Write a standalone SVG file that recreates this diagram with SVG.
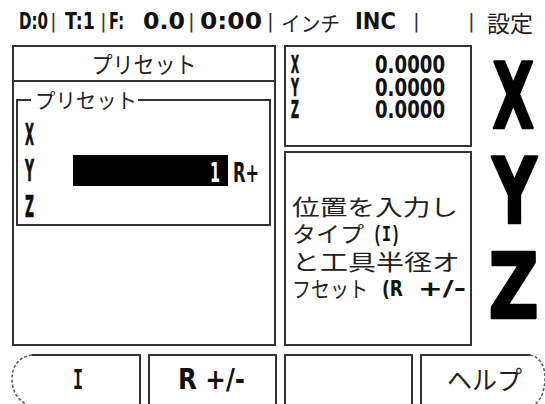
<svg xmlns="http://www.w3.org/2000/svg" width="545" height="404" viewBox="0 0 545 404">
<style>
.ln{fill:none;stroke:#333;stroke-width:2}
.dash{fill:none;stroke:#555;stroke-width:1.5;stroke-dasharray:3 2}
.b{font-family:"DejaVu Sans Condensed","DejaVu Sans",sans-serif;font-weight:bold;fill:#111}
.m{font-family:"Liberation Mono",monospace;font-weight:bold;fill:#111}
.p{font-family:"DejaVu Sans",sans-serif;font-weight:normal;fill:#333;font-size:20px}
.j{font-family:"Noto Sans CJK JP",sans-serif;fill:#222}
.big{font-family:"DejaVu Sans",sans-serif;font-weight:bold;font-size:90px;fill:#000;stroke:#000;stroke-width:2.5;stroke-linejoin:round}
.th{stroke:#111;stroke-width:0.7}
</style>
<rect x="0" y="0" width="545" height="404" fill="#fff"/>
<g id="header">
<text class="b" x="19" y="29" font-size="23" textLength="29" lengthAdjust="spacingAndGlyphs">D:0</text>
<text class="p" x="50" y="28">|</text>
<text class="b" x="65" y="29" font-size="23" textLength="30" lengthAdjust="spacingAndGlyphs">T:1</text>
<text class="p" x="100" y="28">|</text>
<text class="b" x="109" y="29" font-size="23" textLength="15" lengthAdjust="spacingAndGlyphs">F:</text>
<text class="b" x="143" y="29" font-size="23" textLength="42" lengthAdjust="spacingAndGlyphs">0.0</text>
<text class="p" x="188" y="28">|</text>
<text class="b" x="200" y="29" font-size="23" textLength="62" lengthAdjust="spacingAndGlyphs">0:00</text>
<text class="p" x="267" y="28">|</text>
<text class="j" x="281" y="31" font-size="21" textLength="59" lengthAdjust="spacingAndGlyphs">インチ</text>
<text class="b" x="355" y="29" font-size="23" textLength="41" lengthAdjust="spacingAndGlyphs">INC</text>
<text class="p" x="413" y="28">|</text>
<text class="p" x="468" y="28">|</text>
<text class="j" x="487" y="32" font-size="23" textLength="46" lengthAdjust="spacingAndGlyphs">設定</text>
</g>
<g id="preset-panel">
<rect class="ln" x="13" y="46" width="262" height="299"/>
<line class="ln" x1="13" y1="81" x2="275" y2="81"/>
<text class="j" x="144" y="73" font-size="23" text-anchor="middle" textLength="105" lengthAdjust="spacingAndGlyphs">プリセット</text>
</g>
<g id="preset-group">
<path class="ln" d="M31 100 H17 V225 H270 V100 H138"/>
<text class="j" x="35" y="108" font-size="21" textLength="102" lengthAdjust="spacingAndGlyphs">プリセット</text>
<text class="b th" x="25" y="145" font-size="30" textLength="9" lengthAdjust="spacingAndGlyphs">X</text>
<text class="b th" x="25" y="181" font-size="30" textLength="9" lengthAdjust="spacingAndGlyphs">Y</text>
<text class="b th" x="25" y="217" font-size="30" textLength="9" lengthAdjust="spacingAndGlyphs">Z</text>
</g>
<g id="input-field">
<rect x="73" y="155" width="155" height="31" fill="#000"/>
<text class="b" x="210" y="182" font-size="27" style="fill:#fff" textLength="10" lengthAdjust="spacingAndGlyphs">1</text>
<text class="b" x="233" y="182" font-size="27" textLength="26" lengthAdjust="spacingAndGlyphs">R+</text>
</g>
<g id="position-box">
<rect class="ln" x="285" y="46" width="186" height="100"/>
<text class="b th" x="291" y="73" font-size="25" textLength="8" lengthAdjust="spacingAndGlyphs">X</text>
<text class="b th" x="291" y="95.5" font-size="25" textLength="8" lengthAdjust="spacingAndGlyphs">Y</text>
<text class="b th" x="291" y="118" font-size="25" textLength="8" lengthAdjust="spacingAndGlyphs">Z</text>
<text class="b" x="375" y="73" font-size="25" textLength="70" lengthAdjust="spacingAndGlyphs">0.0000</text>
<text class="b" x="375" y="95.5" font-size="25" textLength="70" lengthAdjust="spacingAndGlyphs">0.0000</text>
<text class="b" x="375" y="118" font-size="25" textLength="70" lengthAdjust="spacingAndGlyphs">0.0000</text>
</g>
<g id="message-box">
<rect class="ln" x="285" y="152" width="186" height="193"/>
<text class="j" x="292" y="215" font-size="22" textLength="166" lengthAdjust="spacingAndGlyphs">位置を入力し</text>
<text class="j" x="292" y="242" font-size="22" textLength="72" lengthAdjust="spacingAndGlyphs">タイプ</text>
<text class="m" x="373" y="241" font-size="22" textLength="27" lengthAdjust="spacingAndGlyphs">(I)</text>
<text class="j" x="292" y="270" font-size="22" textLength="168" lengthAdjust="spacingAndGlyphs">と工具半径オ</text>
<text class="j" x="292" y="297" font-size="22" textLength="76" lengthAdjust="spacingAndGlyphs">フセット</text>
<text class="b" x="382" y="296" font-size="22" textLength="21" lengthAdjust="spacingAndGlyphs">(R</text>
<text class="b" x="418" y="296" font-size="22" textLength="48" lengthAdjust="spacingAndGlyphs">+/-</text>
</g>
<g id="axis-letters">
<text class="big" transform="translate(492.5,128) scale(0.6,1)">X</text>
<text class="big" transform="translate(492,223) scale(0.69,1)">Y</text>
<text class="big" transform="translate(488.5,318) scale(0.77,1)">Z</text>
</g>
<g id="softkey-1">
<path class="ln" d="M32 355 H140 V404"/>
<path class="dash" d="M32 355 C18 357 12 367 12 379 C12 391 18 400 26 404"/>
<text class="m" x="73" y="389" font-size="29" textLength="10" lengthAdjust="spacingAndGlyphs">I</text>
</g>
<g id="softkey-2">
<path class="ln" d="M149 404 V355 H276 V404"/>
<text class="b" x="178" y="389" font-size="29" textLength="67" lengthAdjust="spacingAndGlyphs">R +/-</text>
</g>
<g id="softkey-3">
<path class="ln" d="M285 404 V355 H412 V404"/>
</g>
<g id="softkey-4">
<path class="ln" d="M421 404 V355 H530"/>
<path class="dash" d="M530 355 C540 357 545 366 545 378 C545 390 541 400 535 404"/>
<text class="j" x="447" y="390" font-size="26" textLength="75" lengthAdjust="spacingAndGlyphs">ヘルプ</text>
</g>
<g id="connectors"></g>
</svg>
